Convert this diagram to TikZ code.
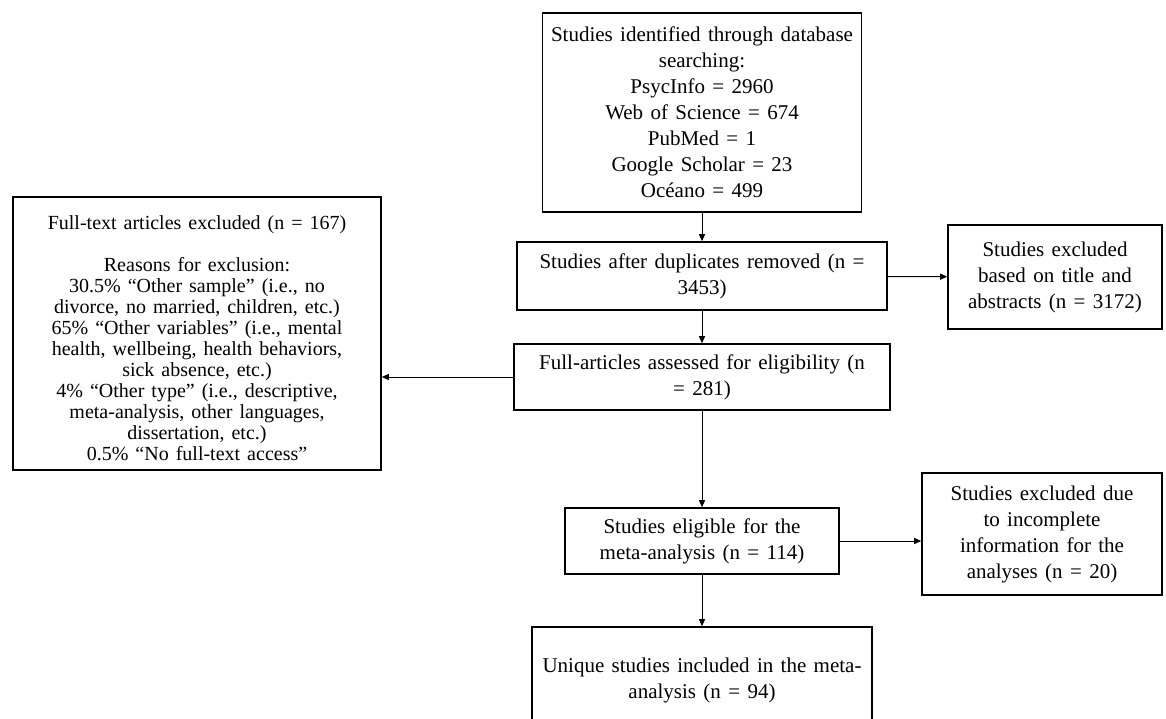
\documentclass[tikz,border=0pt]{standalone}
\usepackage{fontspec}
\setmainfont{Liberation Serif}[WordSpace=1.4]
\usetikzlibrary{arrows.meta, positioning}

\begin{document}
\begin{tikzpicture}[x=1pt, y=-1pt,
  box/.style={draw, line width=1.6pt, align=center, inner sep=0pt,
    font=\fontsize{21}{26}\selectfont},
  arr/.style={-{Triangle[length=7pt, width=6pt]}, line width=1pt}]

  \useasboundingbox (0,0) rectangle (1166,718);
  \clip (0,0) rectangle (1166,718);

  % Database search
  \node[box, minimum width=319pt, minimum height=199pt] (search) at (702,112.5)
    {Studies identified through database\\ searching:\\ PsycInfo = 2960\\
     Web of Science = 674\\ PubMed = 1\\ Google Scholar = 23\\ Océano = 499};

  % Duplicates removed
  \node[box, minimum width=370pt, minimum height=68pt] (dupes) at (702,276)
    {Studies after duplicates removed (n =\\ 3453)};

  % Excluded on title/abstract
  \node[box, minimum width=214pt, minimum height=104pt] (titleout) at (1055,277)
    {Studies excluded\\ based on title and\\ abstracts (n = 3172)};

  % Full text assessed
  \node[box, minimum width=376pt, minimum height=66pt] (fulltext) at (702,377)
    {Full-articles assessed for eligibility (n\\ = 281)};

  % Full-text exclusions (frame, then its text set a little low)
  \node[box, minimum width=368pt, minimum height=273pt] (fullout) at (197,333.5) {};
  \node[align=center, inner sep=0pt, font=\fontsize{20}{21}\selectfont]
    (fullouttext) at ([yshift=-5pt]fullout.center)
    {Full-text articles excluded (n = 167)\\[21pt]
     Reasons for exclusion:\\
     30.5\% “Other sample” (i.e., no\\
     divorce, no married, children, etc.)\\
     65\% “Other variables” (i.e., mental\\
     health, wellbeing, health behaviors,\\
     sick absence, etc.)\\
     4\% “Other type” (i.e., descriptive,\\
     meta-analysis, other languages,\\
     dissertation, etc.)\\
     0.5\% “No full-text access”};

  % Eligible
  \node[box, minimum width=274pt, minimum height=66pt] (eligible) at (702,541)
    {Studies eligible for the\\ meta-analysis (n = 114)};

  % Incomplete information
  \node[box, minimum width=240pt, minimum height=122pt] (infoout) at (1042,534)
    {Studies excluded due\\ to incomplete\\ information for the\\ analyses (n = 20)};

  % Included
  \node[box, minimum width=340pt, minimum height=106pt] (included) at (702,680)
    {Unique studies included in the meta-\\ analysis (n = 94)};

  % Arrows
  \draw[arr] (search) -- (dupes);
  \draw[arr] (dupes) -- (titleout);
  \draw[arr] (dupes) -- (fulltext);
  \draw[arr] (fulltext.west) -- (fulltext.west -| fullout.east);
  \draw[arr] (fulltext) -- (eligible);
  \draw[arr] (eligible.east) -- (eligible.east -| infoout.west);
  \draw[arr] (eligible) -- (included);

\end{tikzpicture}
\end{document}
